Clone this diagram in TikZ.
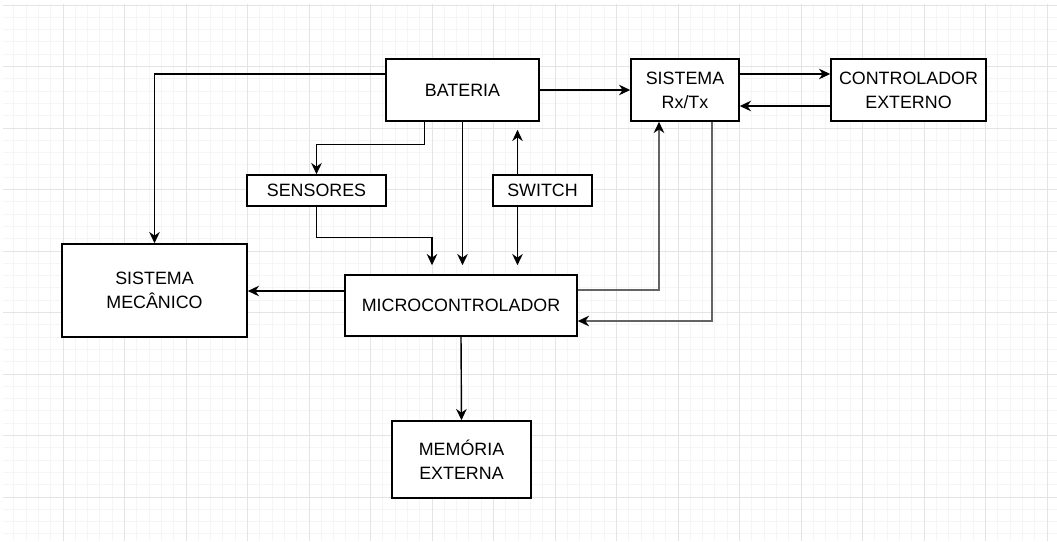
\documentclass[tikz,border=0pt]{standalone}
\usepackage{fontspec}
\setmainfont{Liberation Sans}
\usetikzlibrary{arrows.meta}

\definecolor{gridminor}{RGB}{245,245,245}
\definecolor{gridmajor}{RGB}{228,228,228}
\definecolor{linkgray}{RGB}{100,100,100}

\begin{document}
\begin{tikzpicture}[
  x=0.025cm, y=-0.025cm, >={Stealth[length=8pt,width=7.5pt]},
  blk/.style={draw, line width=1.1pt, fill=white, align=center,
    inner sep=0pt, font=\fontsize{12.7}{17}\selectfont},
  link/.style={->, line width=1pt},
  glink/.style={-{Stealth[length=8pt,width=7.5pt,color=black]}, line width=1.5pt, draw=linkgray}
]
  \useasboundingbox (0,0) rectangle (1057,541);
  % grid
  \foreach \k in {1,...,85}
    \draw[gridminor, line width=0.6pt] ({1.5+12.3*\k},4) -- ({1.5+12.3*\k},541);
  \foreach \k in {0,...,43}
    \draw[gridminor, line width=0.6pt] (3,{5+12.3*\k}) -- (1057,{5+12.3*\k});
  \foreach \k in {1,...,17}
    \draw[gridmajor, line width=0.7pt] ({1.5+61.5*\k},4) -- ({1.5+61.5*\k},541);
  \foreach \k in {0,...,8}
    \draw[gridmajor, line width=0.7pt] (3,{5+61.5*\k}) -- (1057,{5+61.5*\k});

  % blocks
  \node[blk, minimum width=3.825cm, minimum height=1.55cm] (bat) at (462.5,90) {BATERIA};
  \node[blk, minimum width=2.7cm, minimum height=1.55cm] (rxtx) at (685,90) {SISTEMA\\Rx/Tx};
  \node[blk, minimum width=3.875cm, minimum height=1.55cm] (ctrl) at (908.5,90) {CONTROLADOR\\EXTERNO};
  \node[blk, minimum width=3.475cm, minimum height=0.775cm] (sens) at (316.5,190.5) {SENSORES};
  \node[blk, minimum width=2.475cm, minimum height=0.775cm] (sw) at (542.5,190.5) {SWITCH};
  \node[blk, minimum width=4.625cm, minimum height=2.325cm] (mec) at (154.5,290.5) {SISTEMA\\MECÂNICO};
  \node[blk, minimum width=5.8cm, minimum height=1.525cm] (mcu) at (461,305.5) {MICROCONTROLADOR};
  \node[blk, minimum width=3.475cm, minimum height=1.925cm] (mem) at (461.5,459.5) {MEMÓRIA\\EXTERNA};

  % connectors
  \draw[link] ([yshift=0.4cm]bat.west) -| (mec.north);
  \draw[link] (bat.east) -- (rxtx.west);
  \draw[link] ([yshift=0.4cm]rxtx.east) -- ([yshift=0.4cm]ctrl.west);
  \draw[link] ([yshift=-0.4cm]ctrl.west) -- ([yshift=-0.4cm]rxtx.east);
  \draw[link] ([xshift=-0.95cm]bat.south) -- ++(0,23) -| (sens.north);
  \draw[link, shorten >=6.4pt] (bat.south) -- (bat.south |- mcu.north);
  \draw[link, shorten >=5.7pt] ([xshift=-0.625cm]sw.north) -- ([xshift=-0.625cm]sw.north |- bat.south);
  \draw[link, shorten >=6.4pt] ([xshift=-0.625cm]sw.south) -- ([xshift=-0.625cm]sw.south |- mcu.north);
  \draw[link, shorten >=6.4pt] (sens.south) -- ++(0,31) -| ([xshift=-0.725cm]mcu.north);
  \draw[link] ([yshift=0.3625cm]mcu.west) -- ([yshift=0.3625cm]mcu.west -| mec.east);
  \draw[glink] ([yshift=0.3875cm]mcu.east) -| ([xshift=-0.65cm]rxtx.south);
  \draw[glink] ([xshift=0.675cm]rxtx.south) |- ([yshift=-0.3875cm]mcu.east);
  \draw[link] (mcu.south) -- (mem.north);
\end{tikzpicture}
\end{document}
